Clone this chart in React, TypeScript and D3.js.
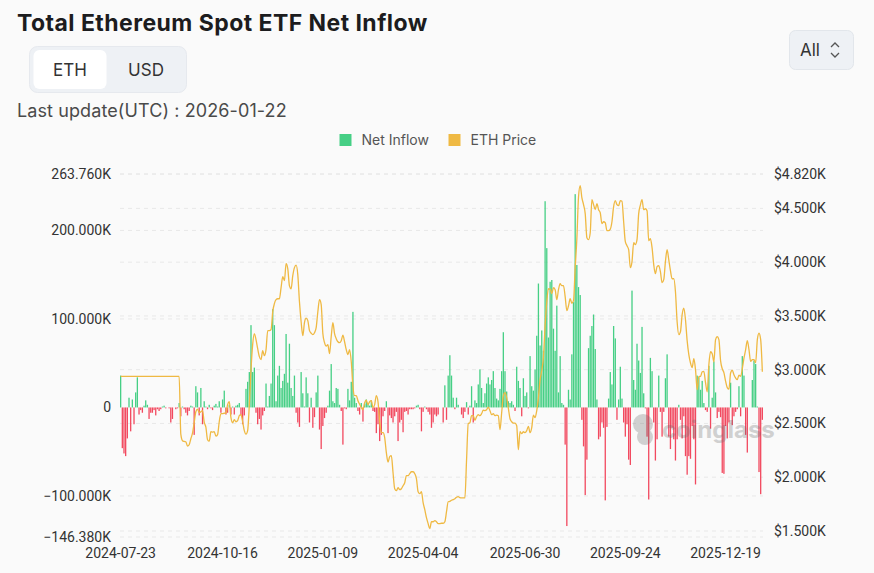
import React, { useEffect, useRef } from 'react';
import * as d3 from 'd3';

// Daily net inflow, thousand ETH (one entry per trading day, 2024-07-23 .. 2026-01-22)
const NET_INFLOW: number[] = [
  36, -46, -52, -55, -35, 11, -27, 9, -19, 17, 34, -8, -3, -6, 2, 8, 3, -13, -6, -6,
  -3, -9, -2, -4, -2, 1, 2, -1, 0, -1, -17, -13, 0, -2, -1, 5, -10, 1, -2, -6,
  -9, -4, 2, 1, -31, 24, 17, -9, 22, -19, 7, 1, -2, 3, -1, -3, 2, 4, 1, 7,
  -6, 9, 19, -8, -6, 3, -8, 1, -8, 2, 3, 5, -9, -19, -9, 21, 29, 40, 93, 40,
  45, -6, -19, -13, -25, -9, -4, 27, 1, 13, 27, 111, 93, 7, 36, 47, 22, 30, 38, 83,
  28, 72, 22, 13, 36, -6, -17, -22, 40, 16, 1, 34, 16, -17, 11, -23, -11, 17, 36, -25,
  -47, -21, -12, -6, 2, 19, 49, 7, 5, 22, 21, 3, -4, -42, -1, -2, 21, 8, 29, 108,
  11, 5, -4, -8, 5, -16, 4, 9, 5, 2, 8, -4, -5, -29, -19, -38, -31, -10, -4, 7,
  -29, -9, -12, -17, -10, -5, -38, -17, -14, -28, -5, -4, -8, -2, -2, -2, -1, 2, 3, -2,
  -27, -5, 1, -2, -5, -8, -23, -17, -8, -10, -8, 0, 0, -17, 25, -14, 36, 59, 36, 11,
  -2, 11, 3, 0, -8, -12, -5, 6, -8, 2, 24, -17, 8, 5, 26, 43, 22, 5, 16, 27,
  34, 26, 31, 41, 22, 10, 8, 21, 41, 85, 41, 18, 7, 5, 7, 3, -4, 46, 30, 22,
  -10, 33, 13, 17, -1, 58, 24, 19, 43, 81, 140, 70, 87, 64, 233, 180, 79, 142, 144, 89,
  64, 115, 17, 58, 5, 3, -42, -134, 20, 9, 60, 119, 241, 161, 136, 127, -14, -44, -99, -59,
  67, 81, 92, 105, 66, 9, -36, -33, -17, -23, -105, -22, 10, 40, 26, 92, 78, -14, 9, 46,
  10, -17, -33, -19, -59, -65, 132, 31, 20, 72, 53, 39, 91, 16, -1, -33, -104, 56, 41, -17,
  -60, -36, 36, -5, -33, -5, 33, 60, -33, -47, -23, -36, -60, -36, 3, -14, -35, -10, -55, -76,
  -55, -58, -21, -36, -87, 36, 34, 20, 30, 5, -3, -5, 47, -24, 11, 52, 17, -12, -5, -11,
  -74, -75, -21, -35, -17, 28, -20, -10, -5, -2, 24, -10, 58, 36, -31, -51, 0, 0, 31, 53,
  49, 1, -73, -98, -14,
];

// ETH price, USD
const ETH_PRICE: number[] = [
  2938, 2938, 2938, 2938, 2938, 2938, 2938, 2938, 2938, 2938, 2938, 2938, 2938, 2938, 2938, 2938, 2938, 2938, 2938, 2938,
  2938, 2938, 2938, 2938, 2938, 2938, 2938, 2938, 2938, 2938, 2938, 2938, 2938, 2938, 2938, 2938, 2400, 2340, 2333, 2330,
  2289, 2302, 2358, 2410, 2507, 2609, 2633, 2600, 2609, 2619, 2512, 2465, 2349, 2335, 2423, 2419, 2423, 2382, 2396, 2516,
  2591, 2591, 2595, 2597, 2675, 2702, 2554, 2507, 2535, 2516, 2526, 2572, 2582, 2516, 2433, 2400, 2433, 2675, 3000, 3233,
  3335, 3279, 3195, 3121, 3093, 3177, 3130, 3186, 3363, 3363, 3372, 3539, 3614, 3651, 3660, 3660, 3763, 3865, 3828, 3986,
  3940, 3781, 3753, 3874, 3949, 3972, 3884, 3632, 3446, 3316, 3437, 3479, 3456, 3363, 3339, 3326, 3344, 3391, 3539, 3651,
  3605, 3335, 3251, 3219, 3233, 3149, 3307, 3437, 3335, 3288, 3260, 3251, 3270, 3321, 3260, 3186, 3140, 3186, 3074, 2842,
  2758, 2758, 2712, 2679, 2647, 2628, 2693, 2716, 2675, 2702, 2712, 2647, 2675, 2758, 2702, 2516, 2414, 2414, 2368, 2228,
  2140, 2191, 2200, 2042, 1893, 1875, 1903, 1884, 1893, 1921, 1949, 2014, 2014, 2033, 2051, 2051, 2033, 1986, 1865, 1847,
  1865, 1763, 1698, 1624, 1568, 1521, 1586, 1586, 1596, 1586, 1568, 1568, 1572, 1572, 1586, 1679, 1772, 1775, 1786, 1791,
  1800, 1814, 1819, 1810, 1807, 1807, 1807, 2163, 2498, 2507, 2572, 2572, 2530, 2563, 2582, 2572, 2591, 2623, 2619, 2628,
  2651, 2619, 2582, 2591, 2572, 2577, 2572, 2442, 2600, 2758, 2786, 2740, 2642, 2544, 2516, 2504, 2502, 2479, 2256, 2423,
  2405, 2423, 2414, 2433, 2473, 2414, 2461, 2577, 2554, 2619, 2740, 2907, 2991, 3121, 3409, 3632, 3753, 3749, 3707, 3763,
  3744, 3651, 3744, 3800, 3781, 3781, 3679, 3549, 3595, 3660, 3618, 3642, 3949, 4218, 4609, 4711, 4600, 4535, 4451, 4228,
  4209, 4274, 4581, 4535, 4488, 4544, 4488, 4460, 4358, 4376, 4367, 4293, 4293, 4307, 4376, 4516, 4572, 4535, 4525, 4572,
  4567, 4376, 4190, 4153, 4116, 3949, 4005, 4181, 4163, 4209, 4451, 4530, 4581, 4488, 4497, 4479, 4200, 4218, 4135, 3977,
  3893, 3958, 3967, 3911, 3809, 3837, 4005, 4116, 4023, 3921, 3846, 3846, 3725, 3446, 3326, 3353, 3512, 3572, 3465, 3270,
  3140, 3062, 3019, 3102, 3000, 2814, 2935, 2938, 2981, 2984, 2879, 2795, 3047, 3167, 3149, 3074, 3279, 3307, 3279, 3084,
  3009, 2972, 2893, 2833, 2819, 2969, 2995, 2954, 2923, 2907, 2949, 2938, 3009, 3107, 3186, 3270, 3186, 3077, 3093, 3093,
  3065, 3279, 3339, 3279, 2981,
];

const X_TICK_LABELS = ['2024-07-23', '2024-10-16', '2025-01-09', '2025-04-04', '2025-06-30', '2025-09-24', '2025-12-19'];
const X_TICK_INDEX = [0, 61, 121, 181, 242, 302, 362];

const INFLOW_TICKS = [-146.38, -100, 0, 100, 200, 263.76];
const PRICE_TICKS = [1500, 2000, 2500, 3000, 3500, 4000, 4500, 4820];

const W = 874;
const H = 573;

const GREEN = '#46cf85';
const RED = '#f2495f';
const GOLD = '#efb943';
const UI_FONT = 'Inter, "Noto Sans", sans-serif';
const AXIS_FONT = 'Roboto, sans-serif';

const App: React.FC = () => {
  const svgRef = useRef<SVGSVGElement>(null);

  useEffect(() => {
    if (!svgRef.current) return;
    const svg = d3.select(svgRef.current);
    svg.selectAll('*').remove();

    const plot = { left: 120, right: 763, top: 174, bottom: 537 };

    svg.append('rect').attr('width', W).attr('height', H).attr('fill', '#fafafa');

    // header
    svg.append('text')
      .attr('x', 17).attr('y', 31)
      .attr('font-family', UI_FONT).attr('font-weight', 700).attr('font-size', 23)
      .attr('letter-spacing', 0.45)
      .attr('fill', '#1c1c1e')
      .text('Total Ethereum Spot ETF Net Inflow');

    const toggle = svg.append('g');
    toggle.append('rect')
      .attr('x', 29.5).attr('y', 46.5).attr('width', 157).attr('height', 46).attr('rx', 8)
      .attr('fill', '#eef1f5').attr('stroke', '#e6e9ee');
    toggle.append('rect')
      .attr('x', 33.5).attr('y', 50).attr('width', 73).attr('height', 39).attr('rx', 6)
      .attr('fill', '#ffffff');
    toggle.selectAll('text.opt')
      .data([{ t: 'ETH', x: 70 }, { t: 'USD', x: 146 }])
      .enter().append('text')
      .attr('class', 'opt')
      .attr('x', d => d.x).attr('y', 76)
      .attr('text-anchor', 'middle')
      .attr('font-family', UI_FONT).attr('font-size', 17).attr('fill', '#333')
      .text(d => d.t);

    svg.append('text')
      .attr('x', 17).attr('y', 117)
      .attr('font-family', UI_FONT).attr('font-size', 18).attr('letter-spacing', 0.1).attr('fill', '#4a4a4a')
      .text('Last update(UTC) : 2026-01-22');

    const btn = svg.append('g');
    btn.append('rect')
      .attr('x', 789.5).attr('y', 30.5).attr('width', 64).attr('height', 39).attr('rx', 6)
      .attr('fill', '#eef1f5').attr('stroke', '#e2e6eb');
    btn.append('text')
      .attr('x', 800).attr('y', 56)
      .attr('font-family', UI_FONT).attr('font-size', 17).attr('fill', '#333')
      .text('All');
    btn.append('path')
      .attr('d', 'M831,47 L835,43 L839,47 M831,53 L835,57 L839,53')
      .attr('fill', 'none').attr('stroke', '#555').attr('stroke-width', 1.3);

    // legend
    const legend = svg.append('g').attr('font-family', UI_FONT).attr('font-size', 14).attr('fill', '#555');
    [{ label: 'Net Inflow', color: GREEN, x: 339.5 }, { label: 'ETH Price', color: GOLD, x: 448.5 }].forEach(d => {
      legend.append('rect').attr('x', d.x).attr('y', 134).attr('width', 12).attr('height', 12).attr('fill', d.color);
      legend.append('text').attr('x', d.x + 22).attr('y', 145).text(d.label);
    });

    // scales
    const x = d3.scaleBand<number>()
      .domain(d3.range(NET_INFLOW.length))
      .range([plot.left, plot.right])
      .paddingInner(0.22);

    const yFlow = d3.scaleLinear()
      .domain([INFLOW_TICKS[0], INFLOW_TICKS[INFLOW_TICKS.length - 1]])
      .range([plot.bottom, plot.top]);

    const yPrice = d3.scaleLinear()
      .domain([1444, PRICE_TICKS[PRICE_TICKS.length - 1]])
      .range([plot.bottom, plot.top]);

    // dashed grid for both axes
    const gridYs = [
      ...INFLOW_TICKS.filter(t => t !== 0).map(t => yFlow(t)),
      ...PRICE_TICKS.map(t => yPrice(t)),
    ];
    svg.append('g')
      .selectAll('line')
      .data(gridYs)
      .enter().append('line')
      .attr('x1', plot.left).attr('x2', plot.right)
      .attr('y1', d => d).attr('y2', d => d)
      .attr('stroke', '#e8e8e8').attr('stroke-dasharray', '4,4');

    // bars
    svg.append('g')
      .selectAll('rect')
      .data(NET_INFLOW)
      .enter().append('rect')
      .attr('x', (d, i) => x(i)!)
      .attr('width', x.bandwidth())
      .attr('y', d => Math.min(yFlow(d), yFlow(0)))
      .attr('height', d => Math.abs(yFlow(d) - yFlow(0)))
      .attr('fill', d => (d >= 0 ? GREEN : RED));

    // price line
    const line = d3.line<number>()
      .x((d, i) => x(i)! + x.bandwidth() / 2)
      .y(d => yPrice(d))
      .curve(d3.curveMonotoneX);

    svg.append('path')
      .datum(ETH_PRICE)
      .attr('d', line)
      .attr('fill', 'none')
      .attr('stroke', GOLD)
      .attr('stroke-width', 1.3);

    // watermark
    const wm = svg.append('g').attr('opacity', 0.28).attr('fill', '#666');
    wm.append('ellipse').attr('cx', 643).attr('cy', 424).attr('rx', 10).attr('ry', 10);
    wm.append('ellipse').attr('cx', 645).attr('cy', 437).attr('rx', 8).attr('ry', 8);
    wm.append('text')
      .attr('x', 662).attr('y', 438)
      .attr('font-family', UI_FONT).attr('font-weight', 700).attr('font-size', 24)
      .text('coinglass');

    // axes
    const styleAxis = (g: d3.Selection<SVGGElement, unknown, null, undefined>) => {
      g.select('.domain').remove();
      g.selectAll('text')
        .attr('font-family', AXIS_FONT)
        .attr('font-size', 14)
        .attr('fill', '#333');
    };

    svg.append('g')
      .attr('transform', `translate(${plot.left},0)`)
      .call(
        d3.axisLeft(yFlow)
          .tickValues(INFLOW_TICKS)
          .tickSize(0)
          .tickPadding(9)
          .tickFormat(d => (+d === 0 ? '0' : `${d3.format('.3f')(+d)}K`))
      )
      .call(styleAxis);

    svg.append('g')
      .attr('transform', `translate(${plot.right},0)`)
      .call(
        d3.axisRight(yPrice)
          .tickValues(PRICE_TICKS)
          .tickSize(0)
          .tickPadding(11)
          .tickFormat(d => `$${d3.format('.3f')(+d / 1000)}K`)
      )
      .call(styleAxis);

    svg.append('g')
      .attr('transform', `translate(0,${plot.bottom})`)
      .call(
        d3.axisBottom(x)
          .tickValues(X_TICK_INDEX)
          .tickSize(0)
          .tickPadding(11)
          .tickFormat((d, i) => X_TICK_LABELS[i])
      )
      .call(styleAxis);
  }, []);

  return (
    <div style={{ position: 'absolute', left: 0, top: 0, width: W, height: H }}>
      <svg ref={svgRef} width={W} height={H} viewBox={`0 0 ${W} ${H}`} style={{ display: 'block' }} />
    </div>
  );
};

export default App;
